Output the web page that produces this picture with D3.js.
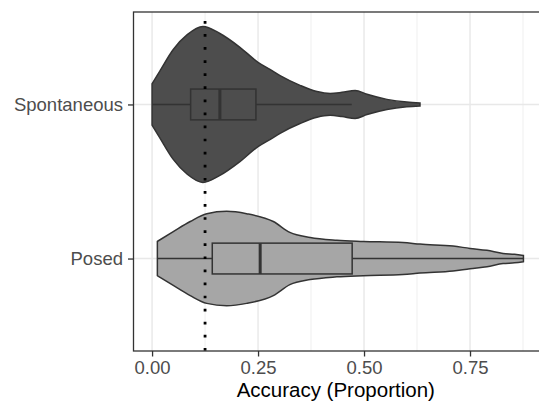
<!DOCTYPE html>
<html lang="en">
<head>
    <meta charset="UTF-8">
    <title>Accuracy violin plot</title>
    <script src="https://d3js.org/d3.v7.min.js"></script>
    <style>
        body { margin: 0; background: #fff; }
        svg { display: block; font-family: "Liberation Sans", Arial, sans-serif; }
    </style>
</head>
<body>
<svg id="chart" width="539" height="402"></svg>
<script>
    // categories, top to bottom
    const groups = ["Spontaneous", "Posed"];
    const fills = ["#4d4d4d", "#a6a6a6"];

    // violin density profiles (accuracy value, density)
    const spontX = [0.000, 0.019, 0.050, 0.083, 0.120, 0.160, 0.208, 0.250, 0.278, 0.302, 0.349, 0.389, 0.420, 0.448, 0.479, 0.507, 0.554, 0.601, 0.632];
    const spontD = [0.53, 0.87, 1.41, 1.79, 2.00, 1.82, 1.46, 1.08, 0.90, 0.74, 0.49, 0.33, 0.28, 0.31, 0.36, 0.26, 0.13, 0.06, 0.04];
    const posedX = [0.0125, 0.050, 0.090, 0.129, 0.176, 0.223, 0.286, 0.325, 0.373, 0.436, 0.498, 0.592, 0.632, 0.710, 0.750, 0.790, 0.828, 0.855, 0.876];
    const posedD = [0.44, 0.69, 0.95, 1.15, 1.21, 1.15, 0.95, 0.67, 0.54, 0.47, 0.44, 0.41, 0.37, 0.32, 0.26, 0.21, 0.13, 0.11, 0.08];

    // boxplot stats: lower whisker, Q1, median, Q3, upper whisker
    const spontBox = [0.000, 0.091, 0.160, 0.245, 0.471];
    const posedBox = [0.0125, 0.142, 0.255, 0.472, 0.876];

    const chanceLevel = 0.125;
    const xTicks = [0, 0.25, 0.5, 0.75];
    const xMinor = [0.125, 0.375, 0.625, 0.875];
    const xTitle = "Accuracy (Proportion)";

    const data = groups.map((g, i) => ({
        name: g,
        fill: fills[i],
        dens: (i === 0 ? spontX : posedX).map((v, j) => ({ x: v, d: (i === 0 ? spontD : posedD)[j] })),
        box: i === 0 ? spontBox : posedBox
    }));

    const svg = d3.select("#chart");
    const panel = { left: 133.5, top: 12, bottom: 351, right: 542 };

    const x = d3.scaleLinear().domain([-0.0438, 0.9198]).range([panel.left, panel.right]);
    const y = d3.scalePoint().domain(groups).range([panel.top, panel.bottom]).padding(0.6);
    const w = d3.scaleLinear().domain([0, 2.0]).range([0, y.step() * 0.506]);
    const boxHalf = y.step() * 0.1;
    const ink = "#333333";

    svg.append("defs").append("clipPath").attr("id", "clip")
        .append("rect")
        .attr("x", panel.left).attr("y", panel.top)
        .attr("width", panel.right - panel.left).attr("height", panel.bottom - panel.top);

    const g = svg.append("g").attr("clip-path", "url(#clip)");

    // grid
    g.selectAll(".minor").data(xMinor).enter().append("line")
        .attr("x1", d => x(d)).attr("x2", d => x(d))
        .attr("y1", panel.top).attr("y2", panel.bottom)
        .attr("stroke", "#ebebeb").attr("stroke-width", 0.8);
    g.selectAll(".major").data(xTicks).enter().append("line")
        .attr("x1", d => x(d)).attr("x2", d => x(d))
        .attr("y1", panel.top).attr("y2", panel.bottom)
        .attr("stroke", "#e8e8e8").attr("stroke-width", 1.4);
    g.selectAll(".hmajor").data(groups).enter().append("line")
        .attr("x1", panel.left).attr("x2", panel.right)
        .attr("y1", d => y(d)).attr("y2", d => y(d))
        .attr("stroke", "#e8e8e8").attr("stroke-width", 1.4);

    // violins with boxplots
    data.forEach(s => {
        const cy = y(s.name);
        const area = d3.area()
            .x(d => x(d.x))
            .y0(d => cy - w(d.d))
            .y1(d => cy + w(d.d))
            .curve(d3.curveMonotoneX);
        g.append("path")
            .datum(s.dens)
            .attr("d", area)
            .attr("fill", s.fill)
            .attr("stroke", ink)
            .attr("stroke-width", 1.5);

        const b = s.box;
        g.append("line")
            .attr("x1", x(b[0])).attr("x2", x(b[1]))
            .attr("y1", cy).attr("y2", cy)
            .attr("stroke", ink).attr("stroke-width", 1.5);
        g.append("line")
            .attr("x1", x(b[3])).attr("x2", x(b[4]))
            .attr("y1", cy).attr("y2", cy)
            .attr("stroke", ink).attr("stroke-width", 1.5);
        g.append("rect")
            .attr("x", x(b[1])).attr("width", x(b[3]) - x(b[1]))
            .attr("y", cy - boxHalf).attr("height", boxHalf * 2)
            .attr("fill", s.fill)
            .attr("stroke", ink).attr("stroke-width", 1.5);
        g.append("line")
            .attr("x1", x(b[2])).attr("x2", x(b[2]))
            .attr("y1", cy - boxHalf).attr("y2", cy + boxHalf)
            .attr("stroke", ink).attr("stroke-width", 3);
    });

    // chance line
    g.append("line")
        .attr("x1", x(chanceLevel)).attr("x2", x(chanceLevel))
        .attr("y1", panel.top).attr("y2", panel.bottom)
        .attr("stroke", "#000").attr("stroke-width", 2.8)
        .attr("stroke-dasharray", "2.7,10.38")
        .attr("stroke-dashoffset", -8.95);

    // panel border
    svg.append("rect")
        .attr("x", panel.left).attr("y", panel.top)
        .attr("width", panel.right - panel.left).attr("height", panel.bottom - panel.top)
        .attr("fill", "none").attr("stroke", ink).attr("stroke-width", 1.3);

    // x axis
    const xAxis = svg.append("g").attr("transform", `translate(0,${panel.bottom})`)
        .call(d3.axisBottom(x).tickValues(xTicks).tickFormat(d3.format(".2f")).tickSize(5.5).tickPadding(4));
    xAxis.select(".domain").remove();
    xAxis.selectAll(".tick line").attr("stroke", ink).attr("stroke-width", 1.3);
    xAxis.selectAll(".tick text").attr("fill", "#4d4d4d").attr("font-size", "18.5px")
        .attr("font-family", "Liberation Sans, Arial, sans-serif");

    // y axis
    const yAxis = svg.append("g").attr("transform", `translate(${panel.left},0)`)
        .call(d3.axisLeft(y).tickSize(5.5).tickPadding(5));
    yAxis.select(".domain").remove();
    yAxis.selectAll(".tick line").attr("stroke", ink).attr("stroke-width", 1.3);
    yAxis.selectAll(".tick text").attr("fill", "#4d4d4d").attr("font-size", "18.5px")
        .attr("font-family", "Liberation Sans, Arial, sans-serif");

    svg.append("text")
        .attr("x", (panel.left + 538) / 2)
        .attr("y", 397)
        .attr("text-anchor", "middle")
        .attr("font-size", "20.5px")
        .attr("fill", "#000")
        .text(xTitle);
</script>
</body>
</html>
